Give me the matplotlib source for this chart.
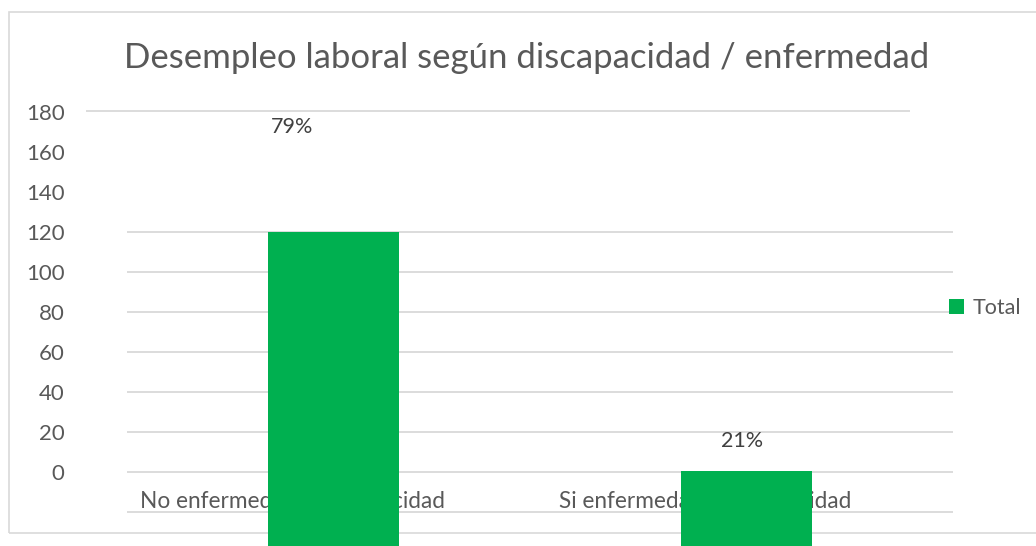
import matplotlib.pyplot as plt
from matplotlib.patches import Rectangle
import matplotlib.transforms as mtransforms

# datos
categorias = ["No enfermedad / discapacidad", "Si enfermedad / discapacidad"]
totales = [120, 0.5]
porcentajes = ["79%", "21%"]
ticks_y = [0, 20, 40, 60, 80, 100, 120, 140, 160, 180]
lineas_grid = [-20, 0, 20, 40, 60, 80, 100, 120]

verde = '#00B050'
gris_txt = '#595959'
gris_lin = '#D9D9D9'
plt.rcParams['font.family'] = ['Lato', 'DejaVu Sans']

W, H = 1036, 546
fig = plt.figure(figsize=(W / 100, H / 100), dpi=100)

# marco del grafico
fig.add_artist(Rectangle((9 / W, 13 / H), 1.1, 521 / H, transform=fig.transFigure,
                         fill=False, edgecolor=gris_lin, lw=1.2, zorder=-1))

ax = fig.add_axes([127 / W, 0, 826 / W, 436 / H])
ax.patch.set_visible(False)
ax.set_xlim(-0.5, 1.5)
base = -37
ax.set_ylim(base, 181)

x = list(range(len(categorias)))
ax.bar(x, [t - base for t in totales], bottom=base, width=0.315, color=verde,
       zorder=3, label='Total')

ax.hlines(lineas_grid, -0.5, 1.5, color=gris_lin, lw=1.3, zorder=1)
trans = mtransforms.blended_transform_factory(ax.transAxes, ax.transData)
ax.hlines([180.5], -41 / 826, 783 / 826, transform=trans, color=gris_lin, lw=1.3,
          clip_on=False, zorder=1)

for i, cat in enumerate(categorias):
    ax.text(i - 0.1, -15, cat, ha='center', va='center', fontsize=16.3,
            color=gris_txt, zorder=2)

ax.text(-0.1, 172.5, porcentajes[0], ha='center', va='center', fontsize=15.5, color='#404040')
ax.text(0.99, 15.5, porcentajes[1], ha='center', va='center', fontsize=15.5, color='#404040')

ax.set_yticks(ticks_y)
ax.set_xticks([])
ax.tick_params(axis='y', length=0, pad=45, labelsize=16, labelcolor=gris_txt)
for s in ax.spines.values():
    s.set_visible(False)

fig.text(527 / W, 1 - 58 / H, 'Desempleo laboral según discapacidad / enfermedad',
         ha='center', va='center', fontsize=25, color=gris_txt)

ax.legend(loc='center left', bbox_to_anchor=(940 / W, 1 - 308 / H),
          bbox_transform=fig.transFigure, frameon=False, fontsize=15.5,
          handlelength=0.7, handleheight=0.7, handletextpad=0.4,
          labelcolor=gris_txt, borderaxespad=0)

fig.savefig('out.png', dpi=100)
